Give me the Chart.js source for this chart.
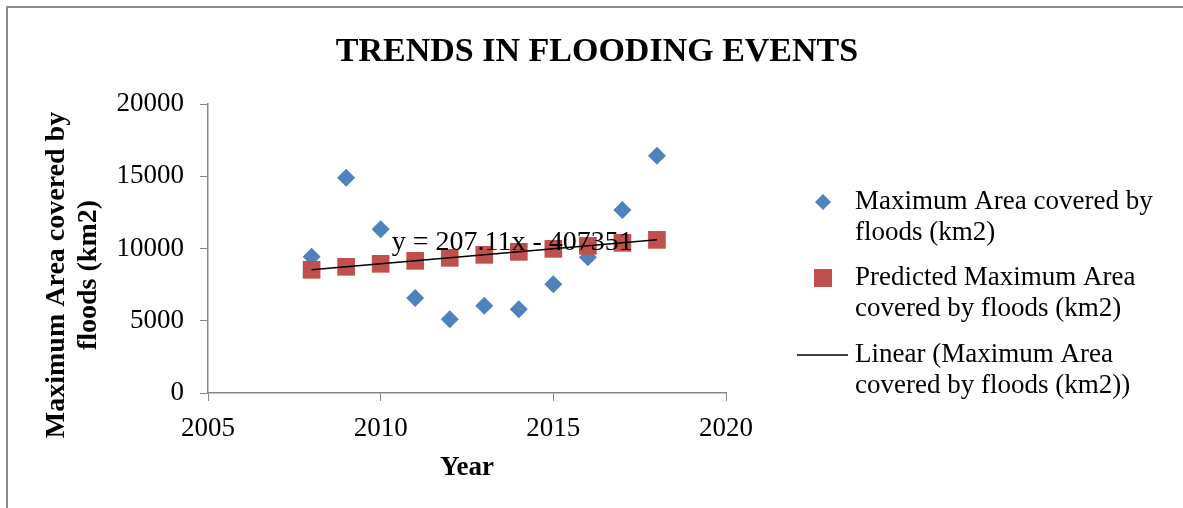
<!DOCTYPE html>
<html>
<head>
<meta charset="utf-8">
<script src="https://cdn.jsdelivr.net/npm/chart.js@4.4.1/dist/chart.umd.min.js"></script>
<style>
body { margin: 0; background: #fff; overflow: hidden; }
#frame { position: absolute; left: 6px; top: 6px; width: 1300px; height: 700px; border: 2px solid #8c8c8c; }
#wrap { position: absolute; left: 0; top: 0; width: 1183px; height: 508px; }
</style>
</head>
<body>
<div id="frame"></div>
<div id="wrap"><canvas id="grafica"></canvas></div>
<script>
const years = [2008, 2009, 2010, 2011, 2012, 2013, 2014, 2015, 2016, 2017, 2018];
const observed = [9430, 14900, 11330, 6570, 5100, 6040, 5790, 7520, 9390, 12660, 16420];
const predicted = [8526, 8733, 8940, 9147, 9354, 9561, 9768, 9975, 10183, 10390, 10597];
const trendYears = [2008, 2018];
const trendValues = [8526, 10598];
const trendText = "y = 207.11x - 407351";
const chartTitle = "TRENDS IN FLOODING EVENTS";
const yTitle = ["Maximum Area covered by", "floods (km2)"];

const serif = "'Liberation Serif', 'DejaVu Serif', serif";
const axisGray = "#868686";

function pts(xs, ys) {
  return xs.map((x, i) => ({ x: x, y: ys[i] }));
}

function wrapText(ctx, text, maxW) {
  const words = text.split(" ");
  const lines = [];
  let cur = "";
  words.forEach(w => {
    const t = cur ? cur + " " + w : w;
    if (ctx.measureText(t).width > maxW && cur) {
      lines.push(cur);
      cur = w;
    } else {
      cur = t;
    }
  });
  lines.push(cur);
  return lines;
}

// title, y title, trend equation and the legend on the right
const extras = {
  id: "extras",
  afterDraw(chart) {
    const ctx = chart.ctx;
    const xs = chart.scales.x, ys = chart.scales.y;
    ctx.save();
    ctx.fillStyle = "#000";
    ctx.textBaseline = "middle";

    // title, centred on the whole box
    ctx.font = "bold 34px " + serif;
    ctx.textAlign = "center";
    ctx.fillText(chartTitle, 597, 52);

    // y axis title
    ctx.font = "bold 28px " + serif;
    ctx.translate(57, 275);
    ctx.rotate(-Math.PI / 2);
    ctx.fillText(yTitle[0], 0, 0);
    ctx.fillText(yTitle[1], 0, 32);
    ctx.setTransform(1, 0, 0, 1, 0, 0);

    // trend equation
    ctx.font = "28px " + serif;
    ctx.textAlign = "left";
    ctx.fillText(trendText, xs.getPixelForValue(2010.32), ys.getPixelForValue(10420));

    // legend
    const rows = [202, 278, 355];
    chart.data.datasets.forEach((ds, i) => {
      const y = rows[i];
      if (ds.showLine) {
        ctx.strokeStyle = ds.borderColor;
        ctx.lineWidth = 1.5;
        ctx.beginPath();
        ctx.moveTo(797, y);
        ctx.lineTo(848, y);
        ctx.stroke();
      } else if (ds.pointStyle === "rectRot") {
        ctx.fillStyle = ds.backgroundColor;
        ctx.beginPath();
        ctx.moveTo(823, y - 8);
        ctx.lineTo(831, y);
        ctx.lineTo(823, y + 8);
        ctx.lineTo(815, y);
        ctx.closePath();
        ctx.fill();
      } else {
        ctx.fillStyle = ds.backgroundColor;
        ctx.fillRect(814, y - 9, 18, 18);
      }
      ctx.fillStyle = "#000";
      ctx.font = "27px " + serif;
      const lines = wrapText(ctx, ds.label, 315);
      lines.forEach((l, k) => ctx.fillText(l, 855, y + k * 31));
    });
    ctx.restore();
  }
};

new Chart(document.getElementById("grafica"), {
  type: "scatter",
  data: {
    datasets: [
      {
        label: "Maximum Area covered by floods (km2)",
        data: pts(years, observed),
        pointStyle: "rectRot",
        pointRadius: 9,
        backgroundColor: "#4f81bd",
        borderColor: "#4f81bd",
        borderWidth: 0,
        order: 2
      },
      {
        label: "Predicted Maximum Area covered by floods (km2)",
        data: pts(years, predicted),
        pointStyle: "rect",
        pointRadius: 12.5,
        backgroundColor: "#c0504d",
        borderColor: "#c0504d",
        borderWidth: 0,
        order: 1
      },
      {
        label: "Linear (Maximum Area covered by floods (km2))",
        data: pts(trendYears, trendValues),
        showLine: true,
        borderColor: "#000",
        borderWidth: 1.5,
        pointRadius: 0,
        order: 0
      }
    ]
  },
  plugins: [extras],
  options: {
    responsive: true,
    maintainAspectRatio: false,
    animation: false,
    layout: { padding: { left: 0, right: 457, top: 104, bottom: 0 } },
    plugins: {
      legend: { display: false },
      tooltip: { enabled: false },
      title: { display: false }
    },
    scales: {
      x: {
        type: "linear",
        min: 2005,
        max: 2020,
        afterFit: s => { s.height = 115; },
        ticks: {
          stepSize: 5,
          color: "#000",
          padding: 12,
          font: { family: serif, size: 27 },
          callback: v => String(v)
        },
        grid: { drawOnChartArea: false, tickLength: 8, color: axisGray },
        border: { color: axisGray, width: 1.5 },
        title: {
          display: true,
          text: "Year",
          color: "#000",
          font: { family: serif, size: 27, weight: "bold" },
          padding: { top: 0, bottom: 24 }
        }
      },
      y: {
        min: 0,
        max: 20000,
        afterFit: s => { s.width = 208; },
        ticks: {
          stepSize: 5000,
          color: "#000",
          padding: 16,
          font: { family: serif, size: 27 },
          callback: v => String(v)
        },
        grid: { drawOnChartArea: false, tickLength: 8, color: axisGray },
        border: { color: axisGray, width: 1.5 }
      }
    }
  }
});
</script>
</body>
</html>
